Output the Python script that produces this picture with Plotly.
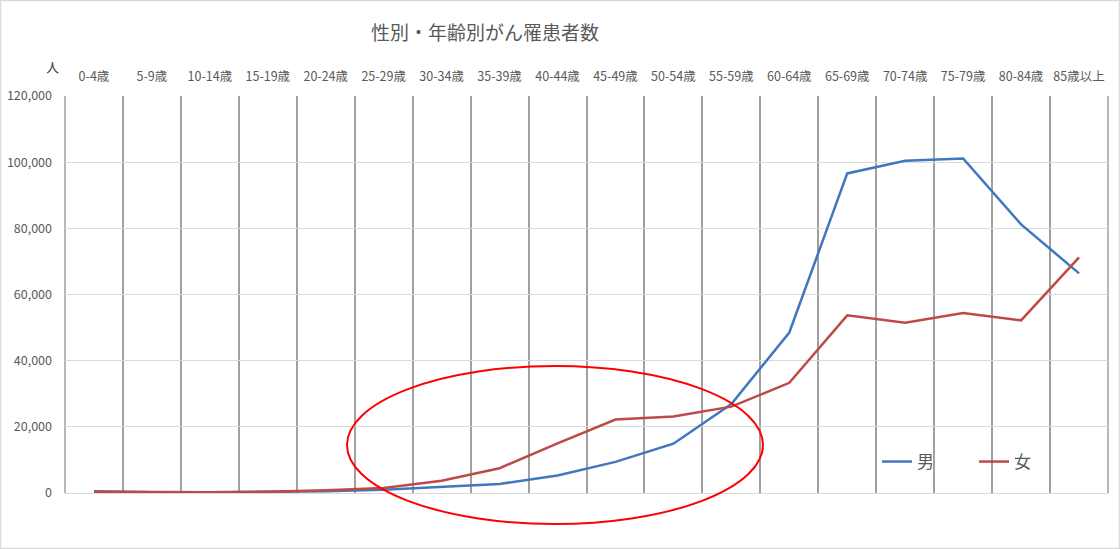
import plotly.graph_objects as go

# ---- data ----
categories = ["0-4歳", "5-9歳", "10-14歳", "15-19歳", "20-24歳", "25-29歳",
              "30-34歳", "35-39歳", "40-44歳", "45-49歳", "50-54歳", "55-59歳",
              "60-64歳", "65-69歳", "70-74歳", "75-79歳", "80-84歳", "85歳以上"]
male = [500, 250, 250, 350, 500, 1000,
        1800, 2750, 5300, 9400, 14900, 26900,
        48500, 96600, 100400, 101100, 81200, 66400]
female = [350, 200, 250, 350, 800, 1500,
          3700, 7500, 15000, 22200, 23100, 26100,
          33300, 53700, 51500, 54400, 52200, 71200]
series_names = ["男", "女"]
y_ticks = [0, 20000, 40000, 60000, 80000, 100000, 120000]
title_text = "性別・年齢別がん罹患者数"
unit_text = "人"

# ---- layout geometry (pixels) ----
W, H = 1120, 549
L, R, T, B = 65, 1108, 96, 493
PW, PH = R - L, B - T


def px(xp):
    return (xp - L) / PW


def py(yp):
    return (B - yp) / PH


FONT = "Noto Sans CJK JP, Noto Sans, sans-serif"
TXT = "#595959"
VGRID = "#A0A0A0"

fig = go.Figure()
fig.add_trace(go.Scatter(x=categories, y=male, name=series_names[0], mode="lines",
                         line=dict(color="#4177BE", width=2.5)))
fig.add_trace(go.Scatter(x=categories, y=female, name=series_names[1], mode="lines",
                         line=dict(color="#BE4A47", width=2.5)))

fig.update_layout(
    width=W, height=H,
    margin=dict(l=L, r=W - R, t=T, b=H - B, pad=0, autoexpand=False),
    paper_bgcolor="white", plot_bgcolor="white",
    font=dict(family=FONT, color=TXT, size=12.5),
    title=dict(text=title_text, xref="container", x=485 / W, xanchor="center",
               yref="container", y=1 - 33 / H, yanchor="middle",
               font=dict(size=19, color=TXT, family=FONT)),
    xaxis=dict(type="category", side="top", tickson="boundaries",
               showgrid=True, gridcolor=VGRID, gridwidth=1.5,
               ticks="", showline=False, zeroline=False, automargin=False,
               range=[-0.5, len(categories) - 0.5], tickangle=0,
               tickfont=dict(size=12.5, color=TXT), ticklabelstandoff=12),
    yaxis=dict(range=[0, 120000], tickvals=y_ticks, tickformat=",",
               showgrid=True, gridcolor="#D9D9D9", gridwidth=1,
               zeroline=True, zerolinecolor="#D9D9D9", zerolinewidth=1,
               showline=False, ticks="", ticklabelstandoff=12, automargin=False,
               tickfont=dict(size=12.5, color=TXT)),
    legend=dict(orientation="h", x=px(877), xanchor="left", y=py(462), yanchor="middle",
                font=dict(size=17, color=TXT), bgcolor="rgba(0,0,0,0)",
                entrywidth=52, entrywidthmode="pixels", itemwidth=30),
    showlegend=True,
)

# unit label
fig.add_annotation(text=unit_text, xref="paper", yref="paper", x=px(52), y=py(67),
                   showarrow=False, font=dict(size=13, color="#404040"),
                   xanchor="center", yanchor="middle")

# plot-area edge lines (category boundaries at both ends)
for xe in (0, 1):
    fig.add_shape(type="line", xref="paper", yref="paper", x0=xe, x1=xe, y0=0, y1=1,
                  line=dict(color=VGRID, width=1.5), layer="below")

# red highlight ellipse
fig.add_shape(type="circle", xref="paper", yref="paper",
              x0=px(347), x1=px(763), y0=py(524), y1=py(366),
              line=dict(color="#FF0000", width=2), fillcolor="rgba(0,0,0,0)", layer="above")

# outer border
fig.add_shape(type="rect", xref="paper", yref="paper",
              x0=px(0.5), x1=px(W - 0.5), y0=py(H - 0.5), y1=py(0.5),
              line=dict(color="#D9D9D9", width=1.5), fillcolor="rgba(0,0,0,0)")

fig.write_html("out.html", config={"displayModeBar": False},
               post_script="document.body.style.margin='0';document.body.style.overflow='hidden';")
